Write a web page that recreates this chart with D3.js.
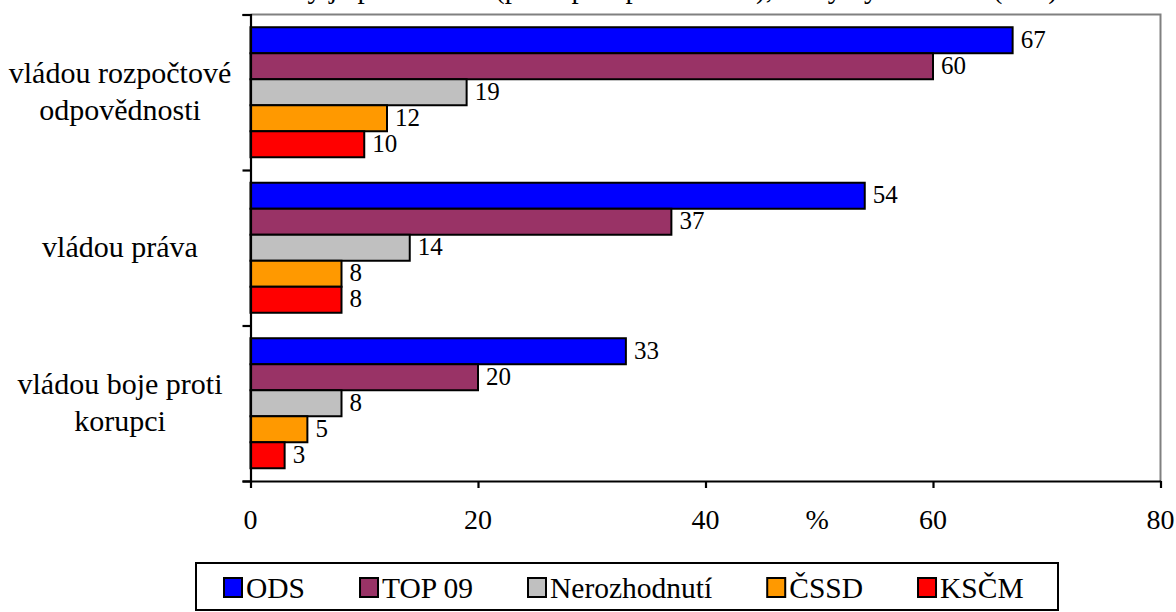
<!DOCTYPE html>
<html>
<head>
<meta charset="utf-8">
<script src="https://cdn.jsdelivr.net/npm/d3@7"></script>
<style>
  html, body { margin: 0; padding: 0; background: #fff; }
  svg { display: block; }
</style>
</head>
<body>
<svg id="chart" width="1176" height="612"></svg>
<script>
// ---- data ----
const categories = ["vládou rozpočtové odpovědnosti", "vládou práva", "vládou boje proti korupci"];
const categoryLines = [["vládou rozpočtové", "odpovědnosti"], ["vládou práva"], ["vládou boje proti", "korupci"]];
const seriesNames = ["ODS", "TOP 09", "Nerozhodnutí", "ČSSD", "KSČM"];
const odsValues = [67, 54, 33];
const top09Values = [60, 37, 20];
const nerozhodnutiValues = [19, 14, 8];
const cssdValues = [12, 8, 5];
const kscmValues = [10, 8, 3];
const seriesColors = ["#0000FF", "#993366", "#C0C0C0", "#FF9900", "#FF0000"];
const xTickValues = [0, 20, 40, 60, 80];
const xAxisTitle = "%";
const titleText = "dotázaný je přesvědčen (plus spíše přesvědčen), že by byla vládou (v %)";

const seriesValues = [odsValues, top09Values, nerozhodnutiValues, cssdValues, kscmValues];

// ---- layout ----
const FONT = "Liberation Serif";
const svg = d3.select("#chart").attr("font-family", FONT);
const plot = { left: 250.5, right: 1160.5, top: 14.5, bottom: 481 };

const x = d3.scaleLinear().domain([0, 80]).range([plot.left, plot.right]);
const yCat = d3.scaleBand().domain(categories).range([plot.top, plot.bottom]).paddingInner(0).paddingOuter(0);
const ySer = d3.scaleBand().domain(seriesNames).range([0, yCat.bandwidth()]).paddingInner(0).paddingOuter(0.49);

// title (clipped at top, as in the reference)
svg.append("text")
  .attr("x", 1058).attr("y", -2)
  .attr("text-anchor", "end")
  .attr("font-family", FONT)
  .attr("font-size", 29)
  .attr("fill", "#000")
  .text(titleText);

// frame top/right (gray)
svg.append("path")
  .attr("d", `M${plot.left},${plot.top}H${plot.right}V${plot.bottom}`)
  .attr("fill", "none").attr("stroke", "#808080").attr("stroke-width", 2);

// bars
const rows = [];
categories.forEach((c, ci) => {
  seriesNames.forEach((s, si) => {
    rows.push({ cat: c, ser: s, value: seriesValues[si][ci], color: seriesColors[si] });
  });
});

const g = svg.append("g");
g.selectAll("rect.bar").data(rows).join("rect")
  .attr("class", "bar")
  .attr("x", x(0))
  .attr("y", d => yCat(d.cat) + ySer(d.ser))
  .attr("width", d => x(d.value) - x(0))
  .attr("height", ySer.bandwidth())
  .attr("fill", d => d.color)
  .attr("stroke", "#000")
  .attr("stroke-width", 2);

g.selectAll("text.val").data(rows).join("text")
  .attr("class", "val")
  .attr("x", d => x(d.value) + 8)
  .attr("y", d => yCat(d.cat) + ySer(d.ser) + 20.5)
  .attr("font-family", FONT)
  .attr("font-size", 25)
  .attr("fill", "#000")
  .text(d => d.value);

// left axis (category boundaries)
const yAxis = d3.axisLeft(d3.scaleLinear().domain([0, 3]).range([plot.top, plot.bottom]))
  .tickValues([0, 1, 2, 3]).tickSize(8).tickFormat("");
const ya = svg.append("g").attr("transform", `translate(${plot.left},0)`).call(yAxis);
ya.select(".domain").attr("stroke", "#000").attr("stroke-width", 2.2);
ya.selectAll(".tick line").attr("stroke", "#000").attr("stroke-width", 2.2);

// bottom axis
const xAxis = d3.axisBottom(x).tickValues(xTickValues).tickSize(7).tickSizeOuter(0).tickFormat("");
const xa = svg.append("g").attr("transform", `translate(0,${plot.bottom})`).call(xAxis);
xa.select(".domain").attr("stroke", "#000").attr("stroke-width", 2.2);
xa.selectAll(".tick line").attr("stroke", "#000").attr("stroke-width", 2.2);

svg.append("g").selectAll("text").data(xTickValues).join("text")
  .attr("x", d => x(d)).attr("y", 529)
  .attr("text-anchor", "middle")
  .attr("font-family", FONT)
  .attr("font-size", 28)
  .text(d => d);

svg.append("text")
  .attr("x", (x(40) + x(60)) / 2 - 2).attr("y", 529)
  .attr("text-anchor", "middle")
  .attr("font-family", FONT)
  .attr("font-size", 28)
  .text(xAxisTitle);

// category labels
const catG = svg.append("g");
categories.forEach((c, ci) => {
  const lines = categoryLines[ci];
  const cy = yCat(c) + yCat.bandwidth() / 2;
  const lh = 37;
  const t = catG.append("text")
    .attr("text-anchor", "middle")
    .attr("font-family", FONT)
    .attr("font-size", 30)
    .attr("x", 120);
  lines.forEach((ln, li) => {
    t.append("tspan")
      .attr("x", 120)
      .attr("y", cy + 9.5 + (li - (lines.length - 1) / 2) * lh)
      .text(ln);
  });
});

// legend
const legend = svg.append("g");
legend.append("rect")
  .attr("x", 196).attr("y", 563).attr("width", 862).attr("height", 47)
  .attr("fill", "#fff").attr("stroke", "#000").attr("stroke-width", 2);

let lx = 224;
seriesNames.forEach((s, i) => {
  legend.append("rect")
    .attr("x", lx).attr("y", 578).attr("width", 18).attr("height", 19)
    .attr("fill", seriesColors[i]).attr("stroke", "#000").attr("stroke-width", 2);
  const t = legend.append("text")
    .attr("x", lx + 22).attr("y", 598)
    .attr("font-family", FONT)
    .attr("font-size", 29.5)
    .text(s);
  const w = t.node().getComputedTextLength();
  lx = lx + 22 + w + 55;
});
</script>
</body>
</html>
